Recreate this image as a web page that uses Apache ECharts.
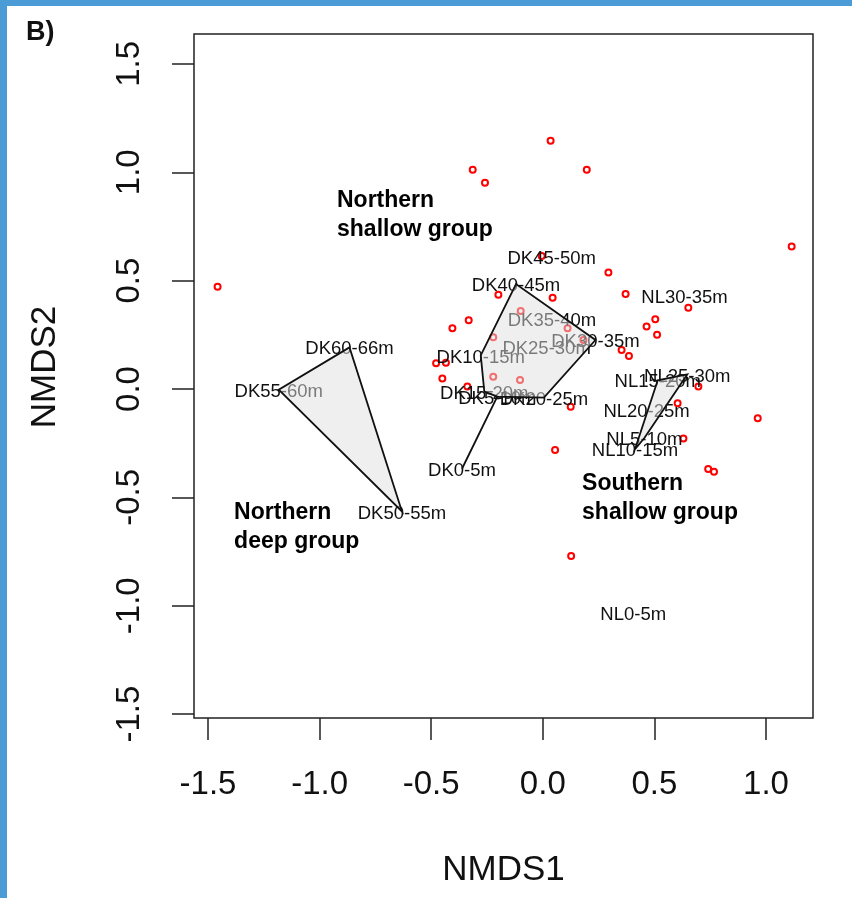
<!DOCTYPE html>
<html>
<head>
<meta charset="utf-8">
<script src="https://cdn.jsdelivr.net/npm/echarts@6/dist/echarts.min.js"></script>
<style>
  html, body { margin: 0; padding: 0; background: #fff; }
  #chart { width: 852px; height: 898px; }
</style>
</head>
<body>
<div id="chart"></div>
<script>
// site scores (labels)
const siteNames = ['DK0-5m', 'DK5-10m', 'DK10-15m', 'DK15-20m', 'DK20-25m', 'DK25-30m', 'DK30-35m',
  'DK35-40m', 'DK40-45m', 'DK45-50m', 'DK50-55m', 'DK55-60m', 'DK60-66m',
  'NL0-5m', 'NL5-10m', 'NL10-15m', 'NL15-20m', 'NL20-25m', 'NL25-30m', 'NL30-35m']
const siteX = [-0.362, -0.204, -0.278, -0.262, 0.005, 0.017, 0.236,
  0.041, -0.12, 0.040, -0.631, -1.183, -0.866,
  0.405, 0.455, 0.413, 0.515, 0.465, 0.647, 0.635]
const siteY = [-0.368, -0.035, 0.155, -0.012, -0.040, 0.192, 0.226,
  0.322, 0.484, 0.611, -0.565, -0.003, 0.192,
  -1.034, -0.226, -0.278, 0.040, -0.097, 0.067, 0.429]

// species scores (red circles)
const speciesX = [-1.457, -0.314, -0.259, 0.035, 0.197, -0.005, 0.294, 0.371, -0.199, 0.044,
  -0.099, -0.332, -0.405, 0.111, 0.504, 0.465, 0.512, -0.222, 0.182, 0.353,
  0.386, -0.478, -0.434, -0.450, -0.338, -0.222, -0.102, 0.125, 0.055, 0.127,
  1.115, 0.652, 0.697, 0.604, 0.963, 0.630, 0.741, 0.767]
const speciesY = [0.472, 1.012, 0.952, 1.146, 1.012, 0.614, 0.538, 0.438, 0.435, 0.421,
  0.360, 0.317, 0.280, 0.280, 0.322, 0.288, 0.250, 0.239, 0.226, 0.180,
  0.152, 0.119, 0.121, 0.048, 0.011, 0.057, 0.042, -0.082, -0.281, -0.771,
  0.657, 0.375, 0.011, -0.066, -0.135, -0.228, -0.369, -0.382]

// hull outlines, by site name
const hullNorthShallow = ['DK10-15m', 'DK40-45m', 'DK30-35m', 'DK20-25m', 'DK5-10m', 'DK0-5m', 'DK5-10m', 'DK15-20m']
const hullNorthDeep = ['DK60-66m', 'DK55-60m', 'DK50-55m']
const hullSouthShallow = ['NL25-30m', 'NL15-20m', 'NL10-15m', 'NL5-10m']
const hulls = [hullNorthShallow, hullNorthDeep, hullSouthShallow]

// group annotations
const groupNames = ['Northern\nshallow group', 'Northern\ndeep group', 'Southern\nshallow group']
const groupX = [-0.922, -1.383, 0.176]
const groupY = [0.803, -0.637, -0.503]

const xTicks = [-1.5, -1.0, -0.5, 0.0, 0.5, 1.0]
const yTicks = [-1.5, -1.0, -0.5, 0.0, 0.5, 1.0, 1.5]
const xMin = -1.5627, xMax = 1.2106
const yMin = -1.518, yMax = 1.638

const font = 'Liberation Sans, Arial, sans-serif'
const chart = echarts.init(document.getElementById('chart'))

const axisCommon = {
  type: 'value',
  splitLine: { show: false },
  axisLine: { show: false, onZero: false },
  axisTick: { show: true, length: 22, lineStyle: { color: '#222', width: 1.5 } },
  axisLabel: { fontFamily: font, fontSize: 33, color: '#111', formatter: v => Number(v).toFixed(1) },
  nameLocation: 'middle',
  nameTextStyle: { fontFamily: font, fontSize: 35, color: '#111' }
}

chart.setOption({
  animation: false,
  graphic: [
    { type: 'rect', shape: { x: 0, y: 0, width: 7, height: 898 }, style: { fill: '#4a9bd6' } },
    { type: 'rect', shape: { x: 0, y: 0, width: 852, height: 6 }, style: { fill: '#4a9bd6' } },
    { type: 'text', x: 26, y: 33, style: { text: 'B)', font: 'bold 27px ' + font, fill: '#111', verticalAlign: 'middle' } }
  ],
  grid: { left: 194, right: 39, top: 34, bottom: 180, show: true, borderColor: '#222', borderWidth: 1.5, backgroundColor: '#fff' },
  xAxis: Object.assign({}, axisCommon, {
    min: xMin, max: xMax, name: 'NMDS1', nameGap: 135,
    axisTick: Object.assign({}, axisCommon.axisTick, { customValues: xTicks }),
    axisLabel: Object.assign({}, axisCommon.axisLabel, { customValues: xTicks, margin: 50 })
  }),
  yAxis: Object.assign({}, axisCommon, {
    min: yMin, max: yMax, name: 'NMDS2', nameGap: 131,
    nameTextStyle: Object.assign({}, axisCommon.nameTextStyle, { padding: [0, 0, 0, 18] }),
    axisTick: Object.assign({}, axisCommon.axisTick, { customValues: yTicks }),
    axisLabel: Object.assign({}, axisCommon.axisLabel, { customValues: yTicks, rotate: 90, margin: 48 })
  }),
  series: [
    {
      type: 'scatter',
      z: 2,
      symbol: 'circle',
      symbolSize: 6,
      itemStyle: { color: 'rgba(0,0,0,0)', borderColor: '#ff0000', borderWidth: 2, opacity: 1 },
      data: speciesX.map((x, i) => [x, speciesY[i]])
    },
    {
      type: 'scatter',
      z: 3,
      symbolSize: 0.1,
      itemStyle: { color: 'rgba(0,0,0,0)', opacity: 1 },
      label: {
        show: true, position: 'inside', formatter: p => p.name,
        fontFamily: font, fontSize: 18.5, color: '#111', offset: [0, 2]
      },
      data: siteNames.map((n, i) => ({ name: n, value: [siteX[i], siteY[i]] }))
    },
    {
      type: 'custom',
      z: 5,
      data: hulls.map((h, i) => [i]),
      encode: { x: -1, y: -1 },
      renderItem: (params, api) => {
        const pts = hulls[params.dataIndex].map(n => {
          const k = siteNames.indexOf(n)
          return api.coord([siteX[k], siteY[k]])
        })
        return {
          type: 'polygon',
          shape: { points: pts },
          style: { fill: 'rgba(223,223,223,0.5)', stroke: '#111', lineWidth: 1.8, lineJoin: 'miter' }
        }
      }
    },
    {
      type: 'scatter',
      z: 6,
      symbolSize: 0.1,
      itemStyle: { color: 'rgba(0,0,0,0)', opacity: 1 },
      label: {
        show: true, position: 'inside', align: 'left', formatter: p => p.name,
        fontFamily: font, fontSize: 23, fontWeight: 'bold', color: '#000', lineHeight: 29
      },
      data: groupNames.map((n, i) => ({ name: n, value: [groupX[i], groupY[i]] }))
    }
  ]
})
</script>
</body>
</html>
